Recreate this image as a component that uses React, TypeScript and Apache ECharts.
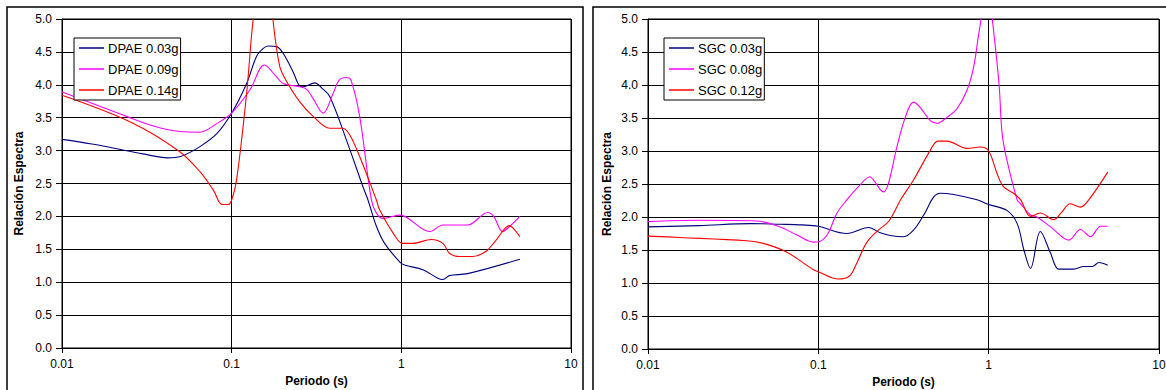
import React, { useEffect, useRef } from "react";
import * as echarts from "echarts";

// ---- Data ----
const xTickLabels = ["0.01", "0.1", "1", "10"];
const yTickStep = 0.5;

const dpaeNames = ["DPAE 0.03g", "DPAE 0.09g", "DPAE 0.14g"];
const sgcNames = ["SGC 0.03g", "SGC 0.08g", "SGC 0.12g"];

const dpae003T = [0.01, 0.015, 0.02, 0.03, 0.042, 0.05, 0.065, 0.082, 0.1, 0.1225, 0.14, 0.153, 0.164, 0.184, 0.201, 0.23, 0.252, 0.264, 0.309, 0.34, 0.379, 0.475, 0.594, 0.636, 0.713, 0.797, 0.977, 1.045, 1.34, 1.64, 1.76, 1.92, 2.46, 5.0];
const dpae003V = [3.17, 3.10, 3.04, 2.95, 2.89, 2.91, 3.06, 3.26, 3.57, 4.02, 4.43, 4.55, 4.59, 4.58, 4.48, 4.20, 3.98, 3.97, 4.03, 3.95, 3.82, 3.16, 2.45, 2.25, 1.85, 1.59, 1.31, 1.26, 1.19, 1.06, 1.04, 1.10, 1.13, 1.35];

const dpae009T = [0.01, 0.015, 0.024, 0.035, 0.0496, 0.065, 0.0816, 0.1, 0.128, 0.156, 0.184, 0.201, 0.252, 0.277, 0.302, 0.346, 0.395, 0.43, 0.475, 0.505, 0.568, 0.666, 0.713, 0.78, 0.977, 1.47, 1.76, 2.46, 3.23, 3.5, 3.96, 4.36, 5.0];
const dpae009V = [3.89, 3.72, 3.52, 3.37, 3.29, 3.28, 3.41, 3.57, 3.92, 4.30, 4.12, 4.02, 3.97, 3.93, 3.79, 3.57, 3.86, 4.07, 4.11, 4.07, 3.52, 2.25, 2.05, 1.97, 2.02, 1.77, 1.87, 1.87, 2.06, 2.0, 1.77, 1.85, 2.0];

const dpae014T = [0.01, 0.026, 0.049, 0.065, 0.078, 0.088, 0.095, 0.1, 0.107, 0.1225, 0.134, 0.15, 0.162, 0.175, 0.192, 0.211, 0.252, 0.302, 0.379, 0.453, 0.496, 0.568, 0.713, 0.745, 0.893, 1.02, 1.17, 1.5, 1.76, 1.92, 2.2, 2.64, 3.16, 3.62, 4.34, 4.64, 5.0];
const dpae014V = [3.84, 3.42, 2.99, 2.68, 2.40, 2.18, 2.18, 2.25, 2.56, 3.87, 5.0, 5.8, 6.0, 5.0, 4.28, 4.05, 3.74, 3.52, 3.34, 3.34, 3.24, 2.91, 2.25, 2.10, 1.75, 1.59, 1.59, 1.65, 1.59, 1.44, 1.39, 1.39, 1.47, 1.64, 1.86, 1.80, 1.69];

const sgc003T = [0.01, 0.02, 0.04, 0.0595, 0.08, 0.1, 0.147, 0.197, 0.231, 0.264, 0.316, 0.362, 0.42, 0.475, 0.52, 0.623, 0.855, 1.0, 1.28, 1.47, 1.61, 1.76, 2.01, 2.31, 2.58, 3.16, 3.62, 4.06, 4.44, 5.0];
const sgc003V = [1.85, 1.87, 1.90, 1.89, 1.88, 1.86, 1.75, 1.84, 1.76, 1.72, 1.70, 1.80, 2.05, 2.30, 2.36, 2.34, 2.26, 2.19, 2.10, 1.90, 1.50, 1.22, 1.78, 1.45, 1.21, 1.21, 1.25, 1.25, 1.31, 1.27];

const sgc008T = [0.01, 0.02, 0.0434, 0.0595, 0.0746, 0.0937, 0.102, 0.114, 0.128, 0.147, 0.172, 0.201, 0.211, 0.241, 0.258, 0.289, 0.324, 0.362, 0.396, 0.454, 0.497, 0.569, 0.651, 0.746, 0.816, 0.874, 0.95, 1.0, 1.05, 1.15, 1.2, 1.28, 1.47, 1.54, 1.76, 1.92, 2.31, 2.96, 3.46, 3.96, 4.54, 5.0];
const sgc008V = [1.93, 1.95, 1.94, 1.85, 1.73, 1.62, 1.63, 1.75, 2.05, 2.26, 2.46, 2.61, 2.56, 2.38, 2.51, 3.06, 3.51, 3.74, 3.66, 3.46, 3.42, 3.51, 3.64, 3.92, 4.27, 4.77, 5.3, 5.4, 5.0, 4.02, 3.26, 2.86, 2.26, 2.20, 2.03, 2.00, 1.85, 1.65, 1.81, 1.70, 1.86, 1.86];

const sgc012T = [0.01, 0.0154, 0.038, 0.0475, 0.065, 0.0937, 0.1, 0.131, 0.153, 0.168, 0.193, 0.225, 0.26, 0.304, 0.362, 0.454, 0.503, 0.569, 0.746, 0.893, 1.0, 1.12, 1.22, 1.40, 1.54, 1.76, 2.01, 2.41, 2.64, 3.02, 3.46, 3.87, 5.0];
const sgc012V = [1.71, 1.69, 1.64, 1.60, 1.47, 1.20, 1.17, 1.06, 1.11, 1.30, 1.62, 1.80, 1.94, 2.26, 2.56, 3.01, 3.15, 3.15, 3.04, 3.06, 3.0, 2.66, 2.46, 2.36, 2.26, 2.01, 2.06, 1.96, 2.05, 2.2, 2.15, 2.26, 2.68];

const colors = ["#000080", "#FF00FF", "#FF0000"];

const zip = (t: number[], v: number[]) => t.map((x, i) => [x, v[i]]);

const FONT = "Arial, 'Liberation Sans', sans-serif";

export default function App() {
  const ref = useRef<HTMLDivElement>(null);
  useEffect(() => {
    if (!ref.current) return;
    const chart = echarts.init(ref.current, null, { renderer: "svg" });

    const fmtX = (v: number) => {
      const s = String(parseFloat(Number(v).toPrecision(6)));
      return xTickLabels.includes(s) ? s : s;
    };

    const grids = [
      { left: 62, top: 19, width: 509, height: 329 },
      { left: 648, top: 19, width: 511, height: 330 },
    ];

    const xAxisBase = (gridIndex: number) => ({
      type: "log",
      logBase: 10,
      gridIndex,
      min: 0.01,
      max: 10,
      name: "Periodo (s)",
      nameLocation: "middle",
      nameGap: 24,
      nameTextStyle: { fontFamily: FONT, fontSize: 12, fontWeight: "bold", color: "#000" },
      axisLine: { show: true, lineStyle: { color: "#000", width: 1 } },
      axisTick: { show: true, inside: false, length: 5, lineStyle: { color: "#000" } },
      minorTick: { show: false },
      axisLabel: { fontFamily: FONT, fontSize: 12, color: "#000", margin: 10, formatter: fmtX },
      splitLine: { show: true, lineStyle: { color: "#000", width: 1 } },
      minorSplitLine: { show: false },
    });

    const yAxisBase = (gridIndex: number, gap: number) => ({
      type: "value",
      gridIndex,
      min: 0,
      max: 5,
      interval: yTickStep,
      name: "Relación Espectra",
      nameLocation: "middle",
      nameGap: gap,
      nameTextStyle: { fontFamily: FONT, fontSize: 12, fontWeight: "bold", color: "#000" },
      axisLine: { show: true, lineStyle: { color: "#000", width: 1 } },
      axisTick: { show: true, inside: false, length: 6, lineStyle: { color: "#000" } },
      axisLabel: {
        fontFamily: FONT,
        fontSize: 12,
        color: "#000",
        margin: 10,
        formatter: (v: number) => v.toFixed(1),
      },
      splitLine: { show: true, lineStyle: { color: "#000", width: 1 } },
    });

    const legendBase = (left: number, names: string[]) => ({
      data: names.map((n) => ({ name: n, icon: "rect" })),
      orient: "vertical",
      left,
      top: 38,
      itemWidth: 25,
      itemHeight: 1.5,
      itemGap: 7,
      padding: [3, 2, 3, 5],
      backgroundColor: "#fff",
      borderColor: "#000",
      borderWidth: 1,
      borderRadius: 0,
      selectedMode: false,
      textStyle: { fontFamily: FONT, fontSize: 13, color: "#000", lineHeight: 14, padding: [0, 0, 0, -1] },
    });

    const mkSeries = (name: string, data: number[][], idx: number, color: string) => ({
      name,
      type: "line",
      xAxisIndex: idx,
      yAxisIndex: idx,
      data,
      symbol: "none",
      smooth: 0.35,
      clip: true,
      lineStyle: { color, width: 1.1 },
      itemStyle: { color },
      emphasis: { disabled: true },
    });

    chart.setOption({
      animation: false,
      backgroundColor: "#fff",
      grid: grids.map((g) => ({
        ...g,
        show: true,
        backgroundColor: "#fff",
        borderColor: "#000",
        borderWidth: 1,
        containLabel: false,
        outerBoundsMode: "none",
      })),
      xAxis: [xAxisBase(0), xAxisBase(1)],
      yAxis: [yAxisBase(0, 37), yAxisBase(1, 35)],
      legend: [legendBase(74, dpaeNames), legendBase(664, sgcNames)],
      graphic: [
        {
          type: "rect",
          shape: { x: 7, y: 7, width: 576, height: 400 },
          style: { fill: "none", stroke: "#000", lineWidth: 1.5 },
          silent: true,
          z: 100,
        },
        {
          type: "rect",
          shape: { x: 593, y: 7, width: 600, height: 400 },
          style: { fill: "none", stroke: "#000", lineWidth: 1.5 },
          silent: true,
          z: 100,
        },
      ],
      series: [
        mkSeries(dpaeNames[0], zip(dpae003T, dpae003V), 0, colors[0]),
        mkSeries(dpaeNames[1], zip(dpae009T, dpae009V), 0, colors[1]),
        mkSeries(dpaeNames[2], zip(dpae014T, dpae014V), 0, colors[2]),
        mkSeries(sgcNames[0], zip(sgc003T, sgc003V), 1, colors[0]),
        mkSeries(sgcNames[1], zip(sgc008T, sgc008V), 1, colors[1]),
        mkSeries(sgcNames[2], zip(sgc012T, sgc012V), 1, colors[2]),
      ],
    });

    return () => chart.dispose();
  }, []);

  return (
    <div
      ref={ref}
      style={{ position: "absolute", left: 0, top: 0, width: 1166, height: 390, background: "#fff" }}
    />
  );
}
